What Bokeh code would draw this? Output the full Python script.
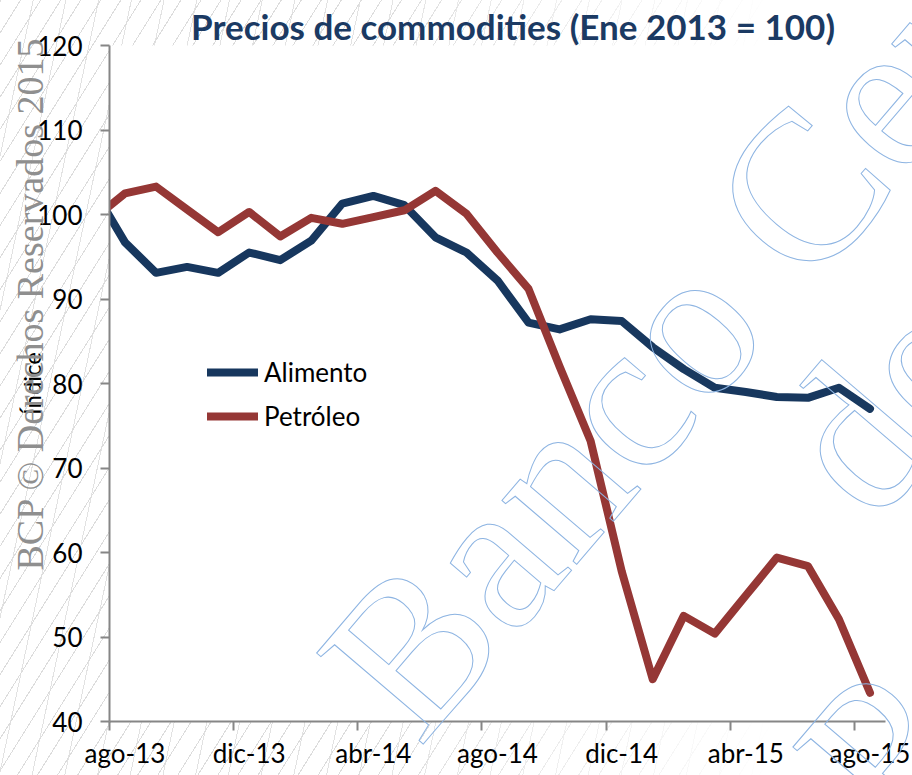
import math
from bokeh.plotting import figure
from bokeh.layouts import column
from bokeh.models import (Range1d, FixedTicker, Legend, LegendItem, ColumnDataSource)
from bokeh.embed import file_html
from bokeh.resources import INLINE

# ---------------- data ----------------
months = ["jul-13", "ago-13", "sep-13", "oct-13", "nov-13", "dic-13",
          "ene-14", "feb-14", "mar-14", "abr-14", "may-14", "jun-14",
          "jul-14", "ago-14", "sep-14", "oct-14", "nov-14", "dic-14",
          "ene-15", "feb-15", "mar-15", "abr-15", "may-15", "jun-15",
          "jul-15", "ago-15"]
alimento = [102.9, 96.7, 93.1, 93.8, 93.1, 95.5,
            94.6, 96.9, 101.3, 102.2, 101.1, 97.3,
            95.5, 92.2, 87.2, 86.4, 87.6, 87.4,
            84.3, 81.7, 79.5, 79.0, 78.4, 78.3,
            79.5, 77.0]
petroleo = [99.5, 102.5, 103.3, 100.6, 97.9, 100.3,
            97.4, 99.6, 98.9, 99.7, 100.5, 102.8,
            100.1, 95.5, 91.2, 82.0, 73.2, 57.8,
            45.0, 52.5, 50.4, 54.9, 59.4, 58.4,
            52.1, 43.4]
tick_labels = ["ago-13", "dic-13", "abr-14", "ago-14", "dic-14", "abr-15", "ago-15"]
y_ticks = [40, 50, 60, 70, 80, 90, 100, 110, 120]
series_names = ["Alimento", "Petróleo"]
title_text = "Precios de commodities (Ene 2013 = 100)"
y_title = "Índice"
vertical_mark = "BCP © Derechos Reservados 2015"
watermark_lines = ["Banco Central", "de Reserva", "Perú"]

# month index: ago-13 occupies [0, 1]; points are centred in their month
first = months.index("ago-13")
xs = [i - first + 0.5 for i in range(len(months))]
tick_pos = [months.index(t) - first for t in tick_labels]
label_pos = [t + 0.5 for t in tick_pos]

src = ColumnDataSource(dict(x=xs, alimento=alimento, petroleo=petroleo, mes=months))

BLUE = "#17375E"
RED = "#953735"
AXIS = "#868686"
FONT = "Lato"

W, H = 912, 775
p = figure(width=W, height=H, output_backend="svg", toolbar_location=None,
           x_range=Range1d(0, len(months) - first), y_range=Range1d(40, 120),
           min_border_left=109, min_border_right=27, min_border_top=45,
           min_border_bottom=54, border_fill_color=None,
           background_fill_color="white", outline_line_color=None)
p.title = None
p.grid.visible = False
p.styles = {
    "background-color": "white",
    "background-image": (
        "linear-gradient(to right, rgba(255,255,255,0) 0%, rgba(255,255,255,0) 40%, "
        "rgba(255,255,255,1) 85%), "
        "repeating-linear-gradient(122deg, #dcdcdc 0px, #dcdcdc 1px, "
        "rgba(255,255,255,0) 1px, rgba(255,255,255,0) 17px), "
        "repeating-linear-gradient(102deg, #e2e2e2 0px, #e2e2e2 1px, "
        "rgba(255,255,255,0) 1px, rgba(255,255,255,0) 32px)"),
}

# y axis
ya = p.yaxis[0]
ya.ticker = FixedTicker(ticks=y_ticks)
ya.axis_line_color = AXIS
ya.axis_line_width = 2
ya.major_tick_line_color = AXIS
ya.major_tick_line_width = 2
ya.major_tick_out = 9
ya.major_tick_in = 0
ya.minor_tick_line_color = None
ya.major_label_standoff = 18
ya.major_label_text_font = FONT
ya.major_label_text_font_size = "26px"
ya.major_label_text_color = "black"
ya.axis_label = y_title
ya.axis_label_text_font = FONT
ya.axis_label_text_font_size = "24px"
ya.axis_label_text_font_style = "normal"
ya.axis_label_text_color = "black"
ya.axis_label_standoff = -12

# x axis: labels centred in their month, tick marks (minor) at month boundaries
xa = p.xaxis[0]
xa.ticker = FixedTicker(ticks=label_pos, minor_ticks=tick_pos)
xa.major_label_overrides = {lp: t for lp, t in zip(label_pos, tick_labels)}
xa.axis_line_color = AXIS
xa.axis_line_width = 2
xa.major_tick_line_color = None
xa.major_tick_out = 0
xa.major_tick_in = 0
xa.minor_tick_line_color = AXIS
xa.minor_tick_line_width = 2
xa.minor_tick_out = 9
xa.minor_tick_in = 0
xa.major_label_standoff = 6
xa.major_label_text_font = FONT
xa.major_label_text_font_size = "26px"
xa.major_label_text_color = "black"

r1 = p.line("x", "alimento", source=src, line_color=BLUE, line_width=8,
            line_join="round", line_cap="round")
r2 = p.line("x", "petroleo", source=src, line_color=RED, line_width=8,
            line_join="round", line_cap="round")

legend = Legend(items=[LegendItem(label=series_names[0], renderers=[r1]),
                       LegendItem(label=series_names[1], renderers=[r2])],
                location=(98, 283), orientation="vertical",
                glyph_width=51, glyph_height=44, label_height=44,
                spacing=0, padding=0, margin=0, label_standoff=6,
                border_line_color=None, background_fill_alpha=0,
                label_text_font=FONT, label_text_font_size="26px",
                label_text_color="black")
p.add_layout(legend)

# ---------------- overlay figure (pixel space) for title and watermarks ----------------
ov = figure(width=W, height=H, output_backend="svg", toolbar_location=None,
            x_range=Range1d(0, W), y_range=Range1d(H, 0),
            min_border=0, min_border_left=0, min_border_right=0,
            min_border_top=0, min_border_bottom=0,
            x_axis_location=None, y_axis_location=None,
            border_fill_color=None, background_fill_color=None,
            outline_line_color=None)
ov.title = None
ov.grid.visible = False
ov.styles = {"position": "absolute", "left": "0px", "top": "0px",
             "pointer-events": "none"}
for fig in (p, ov):
    if "frame_align" in fig.properties():
        fig.frame_align = False

# title (anchored at the vertical middle of the text)
ov.text(x=[512.5], y=[25], text=[title_text], text_align="center",
        text_baseline="middle", text_font={"value": FONT},
        text_font_style="bold", text_font_size="35px", text_color="#1B3A63")

# vertical grey watermark
ov.text(x=[29], y=[570], text=[vertical_mark], angle=math.pi / 2,
        text_align="left", text_baseline="middle",
        text_font={"value": "Liberation Serif"}, text_font_size="38px",
        text_color="#8F8F8F")

# big outlined diagonal watermark (decoration), one text per line
ang = math.radians(49.5)
ov.text(x=[363.5, 819.2, 839.8], y=[701.1, 478.7, 795.1], text=watermark_lines,
        angle=ang, text_align="left", text_baseline="middle",
        text_font={"value": "Liberation Serif"}, text_font_size="214px",
        text_color="rgba(255,255,255,0.01)", text_outline_color="#8DB4E2")

lay = column(p, ov)
open("out.html", "w").write(file_html(lay, INLINE))
